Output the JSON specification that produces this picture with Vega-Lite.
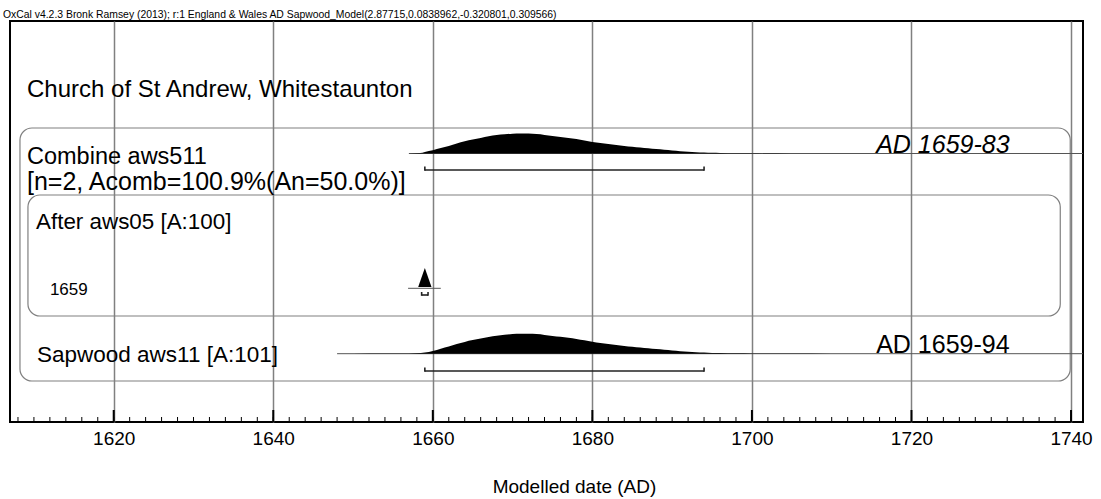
{
"$schema":"https://vega.github.io/schema/vega-lite/v6.json",
"width":1073,"height":401,
"autosize":{"type":"none"},
"padding":{"left":10,"top":21,"right":18,"bottom":77},
"background":"white",
"config":{"view":{"stroke":"#000","strokeWidth":2},"font":"Liberation Sans",
  "axisX":{"grid":true,"gridColor":"#808080","gridWidth":1.5,"ticks":false,"domain":false,"labelFont":"Liberation Sans","labelFontSize":19,"labelColor":"#000","labelPadding":7,"labelFlush":false,"labelOverlap":false,"titleFont":"Liberation Sans","titleFontSize":19,"titleFontWeight":"normal","titleColor":"#000","titlePadding":34}},
"title":{"text":"OxCal v4.2.3 Bronk Ramsey (2013); r:1 England & Wales AD Sapwood_Model(2.87715,0.0838962,-0.320801,0.309566)","anchor":"start","font":"Liberation Sans","fontSize":10.4,"fontWeight":"normal","color":"#000","offset":3,"dx":-7,"dy":12,"baseline":"bottom"},
"datasets":{
 "sapwood":[{"year":1648,"p":0},{"year":1650,"p":0.002},{"year":1654,"p":0.006},{"year":1657,"p":0.015},{"year":1658.5,"p":0.035},{"year":1659,"p":0.06},{"year":1660,"p":0.14},{"year":1661,"p":0.25},{"year":1662,"p":0.36},{"year":1663,"p":0.48},{"year":1664,"p":0.59},{"year":1665,"p":0.68},{"year":1666,"p":0.76},{"year":1667,"p":0.84},{"year":1668,"p":0.9},{"year":1669,"p":0.95},{"year":1670,"p":0.98},{"year":1671,"p":0.995},{"year":1672,"p":1.0},{"year":1673,"p":0.98},{"year":1674,"p":0.94},{"year":1675,"p":0.89},{"year":1676,"p":0.85},{"year":1677,"p":0.8},{"year":1678,"p":0.74},{"year":1679,"p":0.67},{"year":1680,"p":0.6},{"year":1681,"p":0.53},{"year":1682,"p":0.48},{"year":1683,"p":0.435},{"year":1684,"p":0.39},{"year":1685,"p":0.35},{"year":1686,"p":0.31},{"year":1687,"p":0.27},{"year":1688,"p":0.23},{"year":1689,"p":0.195},{"year":1690,"p":0.16},{"year":1691,"p":0.125},{"year":1692,"p":0.095},{"year":1693,"p":0.072},{"year":1694,"p":0.055},{"year":1695,"p":0.04},{"year":1696,"p":0.03},{"year":1698,"p":0.018},{"year":1700,"p":0.01},{"year":1705,"p":0.004},{"year":1710,"p":0.001},{"year":1715,"p":0}],
 "combine":[{"year":1657,"p":0},{"year":1658.4,"p":0.02},{"year":1659,"p":0.08},{"year":1660,"p":0.165},{"year":1661,"p":0.27},{"year":1662,"p":0.38},{"year":1663,"p":0.5},{"year":1664,"p":0.61},{"year":1665,"p":0.7},{"year":1666,"p":0.78},{"year":1667,"p":0.86},{"year":1668,"p":0.92},{"year":1669,"p":0.96},{"year":1670,"p":0.99},{"year":1671,"p":1.0},{"year":1672,"p":0.995},{"year":1673,"p":0.97},{"year":1674,"p":0.93},{"year":1675,"p":0.88},{"year":1676,"p":0.83},{"year":1677,"p":0.78},{"year":1678,"p":0.72},{"year":1679,"p":0.65},{"year":1680,"p":0.58},{"year":1681,"p":0.52},{"year":1682,"p":0.47},{"year":1683,"p":0.425},{"year":1684,"p":0.38},{"year":1685,"p":0.34},{"year":1686,"p":0.3},{"year":1687,"p":0.26},{"year":1688,"p":0.22},{"year":1689,"p":0.185},{"year":1690,"p":0.15},{"year":1691,"p":0.118},{"year":1692,"p":0.09},{"year":1693,"p":0.068},{"year":1694,"p":0.052},{"year":1695,"p":0.038},{"year":1696,"p":0.028},{"year":1698,"p":0.016},{"year":1700,"p":0.009},{"year":1705,"p":0.003},{"year":1710,"p":0}],
 "ranges":[{"item":"Combine aws511","from":1659,"to":1694},{"item":"After aws05","from":1658.6,"to":1659.4},{"item":"Sapwood aws11","from":1659,"to":1694}],
 "ticks":[{"year":1608},{"year":1610},{"year":1612},{"year":1614},{"year":1616},{"year":1618},{"year":1620},{"year":1622},{"year":1624},{"year":1626},{"year":1628},{"year":1630},{"year":1632},{"year":1634},{"year":1636},{"year":1638},{"year":1640},{"year":1642},{"year":1644},{"year":1646},{"year":1648},{"year":1650},{"year":1652},{"year":1654},{"year":1656},{"year":1658},{"year":1660},{"year":1662},{"year":1664},{"year":1666},{"year":1668},{"year":1670},{"year":1672},{"year":1674},{"year":1676},{"year":1678},{"year":1680},{"year":1682},{"year":1684},{"year":1686},{"year":1688},{"year":1690},{"year":1692},{"year":1694},{"year":1696},{"year":1698},{"year":1700},{"year":1702},{"year":1704},{"year":1706},{"year":1708},{"year":1710},{"year":1712},{"year":1714},{"year":1716},{"year":1718},{"year":1720},{"year":1722},{"year":1724},{"year":1726},{"year":1728},{"year":1730},{"year":1732},{"year":1734},{"year":1736},{"year":1738},{"year":1740}]
},
"layer":[
 {"data":{"name":"ticks"},"mark":{"type":"rule","color":"#000","strokeWidth":1},
  "encoding":{"x":{"field":"year","type":"quantitative","scale":{"domain":[1607,1741.5],"nice":false,"zero":false},"axis":{"title":"Modelled date (AD)","values":[1620,1640,1660,1680,1700,1720,1740],"format":"d","titleX":564,"titleY":64,"titleBaseline":"middle"}},
   "y":{"datum":401,"type":"quantitative","scale":{"domain":[0,401],"reverse":true,"nice":false,"zero":false},"axis":null},"y2":{"datum":396}}},
 {"layer":[
  {"data":{"name":"ticks"},"transform":[{"filter":"datum.year % 20 == 0"}],"mark":{"type":"rule","color":"#000","strokeWidth":2},
   "encoding":{"x":{"field":"year","type":"quantitative","scale":{"domain":[1607,1741.5],"nice":false,"zero":false},"axis":{"title":"Modelled date (AD)","values":[1620,1640,1660,1680,1700,1720,1740],"format":"d","titleX":564,"titleY":64,"titleBaseline":"middle"}},
    "y":{"datum":401,"type":"quantitative","scale":{"domain":[0,401],"reverse":true,"nice":false,"zero":false},"axis":null},"y2":{"datum":389}}},
  {"data":{"values":[{"box":"Combine aws511"}]},"mark":{"type":"rect","fillOpacity":0,"stroke":"#808080","strokeWidth":1.2,"cornerRadius":12},
   "encoding":{"x":{"datum":1608.25,"type":"quantitative"},"x2":{"datum":1739.9},"y":{"datum":107,"type":"quantitative","axis":null},"y2":{"datum":360}}},
  {"data":{"values":[{"box":"After aws05"}]},"mark":{"type":"rect","fillOpacity":0,"stroke":"#808080","strokeWidth":1.2,"cornerRadius":12},
   "encoding":{"x":{"datum":1609.25,"type":"quantitative"},"x2":{"datum":1738.65},"y":{"datum":174,"type":"quantitative","axis":null},"y2":{"datum":295}}},
  {"data":{"values":[{"item":"Combine aws511"}]},"mark":{"type":"rule","color":"#555","strokeWidth":1},
   "encoding":{"x":{"datum":1657,"type":"quantitative"},"x2":{"datum":1741.5},"y":{"datum":132.5,"type":"quantitative","axis":null}}},
  {"data":{"values":[{"item":"Sapwood aws11"}]},"mark":{"type":"rule","color":"#555","strokeWidth":1},
   "encoding":{"x":{"datum":1648,"type":"quantitative"},"x2":{"datum":1741.5},"y":{"datum":332.7,"type":"quantitative","axis":null}}},
  {"data":{"values":[{"item":"After aws05"}]},"mark":{"type":"rule","color":"#555","strokeWidth":1},
   "encoding":{"x":{"datum":1656.9,"type":"quantitative"},"x2":{"datum":1661},"y":{"datum":267.3,"type":"quantitative","axis":null}}},
  {"data":{"name":"ranges"},"transform":[{"filter":"datum.item == 'Combine aws511'"}],"mark":{"type":"rule","color":"#222","strokeWidth":1.6},
   "encoding":{"x":{"field":"from","type":"quantitative","title":"Modelled date (AD)"},"x2":{"field":"to"},"y":{"datum":149,"type":"quantitative","axis":null}}},
  {"data":{"name":"ranges"},"transform":[{"filter":"datum.item == 'Combine aws511'"}],"mark":{"type":"rule","color":"#222","strokeWidth":1.6},
   "encoding":{"x":{"field":"from","type":"quantitative","title":"Modelled date (AD)"},"y":{"datum":149.8,"type":"quantitative","axis":null},"y2":{"datum":145.5}}},
  {"data":{"name":"ranges"},"transform":[{"filter":"datum.item == 'Combine aws511'"}],"mark":{"type":"rule","color":"#222","strokeWidth":1.6},
   "encoding":{"x":{"field":"to","type":"quantitative","title":"Modelled date (AD)"},"y":{"datum":149.8,"type":"quantitative","axis":null},"y2":{"datum":145.5}}},
  {"data":{"name":"ranges"},"transform":[{"filter":"datum.item == 'After aws05'"}],"mark":{"type":"rule","color":"#222","strokeWidth":1.6},
   "encoding":{"x":{"field":"from","type":"quantitative","title":"Modelled date (AD)"},"x2":{"field":"to"},"y":{"datum":274,"type":"quantitative","axis":null}}},
  {"data":{"name":"ranges"},"transform":[{"filter":"datum.item == 'After aws05'"}],"mark":{"type":"rule","color":"#222","strokeWidth":1.6},
   "encoding":{"x":{"field":"from","type":"quantitative","title":"Modelled date (AD)"},"y":{"datum":274.8,"type":"quantitative","axis":null},"y2":{"datum":271}}},
  {"data":{"name":"ranges"},"transform":[{"filter":"datum.item == 'After aws05'"}],"mark":{"type":"rule","color":"#222","strokeWidth":1.6},
   "encoding":{"x":{"field":"to","type":"quantitative","title":"Modelled date (AD)"},"y":{"datum":274.8,"type":"quantitative","axis":null},"y2":{"datum":271}}},
  {"data":{"name":"ranges"},"transform":[{"filter":"datum.item == 'Sapwood aws11'"}],"mark":{"type":"rule","color":"#222","strokeWidth":1.6},
   "encoding":{"x":{"field":"from","type":"quantitative","title":"Modelled date (AD)"},"x2":{"field":"to"},"y":{"datum":350,"type":"quantitative","axis":null}}},
  {"data":{"name":"ranges"},"transform":[{"filter":"datum.item == 'Sapwood aws11'"}],"mark":{"type":"rule","color":"#222","strokeWidth":1.6},
   "encoding":{"x":{"field":"from","type":"quantitative","title":"Modelled date (AD)"},"y":{"datum":350.8,"type":"quantitative","axis":null},"y2":{"datum":346.5}}},
  {"data":{"name":"ranges"},"transform":[{"filter":"datum.item == 'Sapwood aws11'"}],"mark":{"type":"rule","color":"#222","strokeWidth":1.6},
   "encoding":{"x":{"field":"to","type":"quantitative","title":"Modelled date (AD)"},"y":{"datum":350.8,"type":"quantitative","axis":null},"y2":{"datum":346.5}}},
  {"data":{"values":[{"label":"After aws05","year":1659}]},"mark":{"type":"point","filled":true,"color":"#000","opacity":1,"shape":"M0,-1L0.7,1L-0.7,1Z","size":361},
   "encoding":{"x":{"field":"year","type":"quantitative","title":"Modelled date (AD)"},"y":{"datum":256.5,"type":"quantitative","axis":null}}},
  {"data":{"values":[{"label":"Church of St Andrew, Whitestaunton"}]},"mark":{"type":"text","align":"left","baseline":"middle","font":"Liberation Sans","fontSize":24,"color":"#000"},
   "encoding":{"x":{"datum":1609.13,"type":"quantitative"},"y":{"datum":69,"type":"quantitative","axis":null},"text":{"field":"label"}}},
  {"data":{"values":[{"label":"Combine aws511"}]},"mark":{"type":"text","align":"left","baseline":"middle","font":"Liberation Sans","fontSize":23.5,"color":"#000"},
   "encoding":{"x":{"datum":1609.13,"type":"quantitative"},"y":{"datum":136,"type":"quantitative","axis":null},"text":{"field":"label"}}},
  {"data":{"values":[{"label":"[n=2, Acomb=100.9%(An=50.0%)]"}]},"mark":{"type":"text","align":"left","baseline":"middle","font":"Liberation Sans","fontSize":25,"color":"#000"},
   "encoding":{"x":{"datum":1609.13,"type":"quantitative"},"y":{"datum":161,"type":"quantitative","axis":null},"text":{"field":"label"}}},
  {"data":{"values":[{"label":"After aws05 [A:100]"}]},"mark":{"type":"text","align":"left","baseline":"middle","font":"Liberation Sans","fontSize":22.4,"color":"#000"},
   "encoding":{"x":{"datum":1610.26,"type":"quantitative"},"y":{"datum":201,"type":"quantitative","axis":null},"text":{"field":"label"}}},
  {"data":{"values":[{"label":"1659"}]},"mark":{"type":"text","align":"left","baseline":"middle","font":"Liberation Sans","fontSize":17,"color":"#000"},
   "encoding":{"x":{"datum":1612.0,"type":"quantitative"},"y":{"datum":269,"type":"quantitative","axis":null},"text":{"field":"label"}}},
  {"data":{"values":[{"label":"Sapwood aws11 [A:101]"}]},"mark":{"type":"text","align":"left","baseline":"middle","font":"Liberation Sans","fontSize":22.5,"color":"#000"},
   "encoding":{"x":{"datum":1610.38,"type":"quantitative"},"y":{"datum":334,"type":"quantitative","axis":null},"text":{"field":"label"}}},
  {"data":{"values":[{"label":"AD 1659-83"}]},"mark":{"type":"text","align":"right","baseline":"alphabetic","font":"Liberation Sans","fontSize":25,"fontStyle":"italic","color":"#000"},
   "encoding":{"x":{"datum":1732.3,"type":"quantitative"},"y":{"datum":132,"type":"quantitative","axis":null},"text":{"field":"label"}}},
  {"data":{"values":[{"label":"AD 1659-94"}]},"mark":{"type":"text","align":"right","baseline":"alphabetic","font":"Liberation Sans","fontSize":25,"color":"#000"},
   "encoding":{"x":{"datum":1732.3,"type":"quantitative"},"y":{"datum":331.5,"type":"quantitative","axis":null},"text":{"field":"label"}}}
 ]},
 {"data":{"name":"combine"},"mark":{"type":"area","color":"#000","interpolate":"monotone"},
  "encoding":{"x":{"field":"year","type":"quantitative","title":"Modelled date (AD)"},
   "y":{"field":"p","type":"quantitative","scale":{"domain":[-13.425,6.625],"nice":false,"zero":false},"axis":null},"y2":{"datum":0}}},
 {"data":{"name":"sapwood"},"mark":{"type":"area","color":"#000","interpolate":"monotone"},
  "encoding":{"x":{"field":"year","type":"quantitative","title":"Modelled date (AD)"},
   "y":{"field":"p","type":"quantitative","scale":{"domain":[-3.415,16.635],"nice":false,"zero":false},"axis":null},"y2":{"datum":0}}}
],
"resolve":{"scale":{"y":"independent"}}
}
